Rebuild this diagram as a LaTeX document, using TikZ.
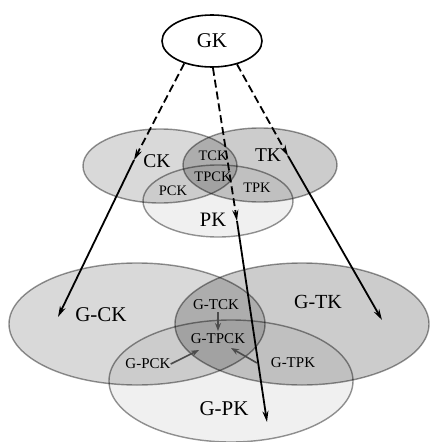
\documentclass[tikz,border=0pt]{standalone}
\usepackage{fontspec}
\setmainfont{Liberation Serif}
\usetikzlibrary{shapes.geometric,arrows.meta}
\begin{document}
\begin{tikzpicture}[x=1pt,y=-1pt,
  setA/.style={ellipse,inner sep=0pt,draw=black,draw opacity=0.42,line width=1.4pt,fill=black},
  lbl/.style={inner sep=0pt},
  small/.style={font=\fontsize{14.5}{14.5}\selectfont,inner sep=0pt},
  smallg/.style={font=\fontsize{15}{15}\selectfont,inner sep=0pt},
  dasharrow/.style={line width=1.8pt,dash pattern=on 8pt off 4pt,-{Stealth[length=11pt,width=6pt]}},
  solidarrow/.style={line width=1.8pt,-{Stealth[length=11pt,width=6pt]}},
  innerarrow/.style={line width=1.6pt,draw=black!70,-{Stealth[length=8pt,width=6pt]}}]
\useasboundingbox (0,0) rectangle (429,442);
\fill[white] (0,0) rectangle (429,442);
% bottom venn
\node[setA,fill opacity=0.15,minimum width=256,minimum height=122] (egck) at (137,324) {};
\node[setA,fill opacity=0.20,minimum width=254,minimum height=122] (egtk) at (302,324) {};
\node[setA,fill opacity=0.06,minimum width=244,minimum height=122] (egpk) at (231,381) {};
% top venn
\node[setA,fill opacity=0.15,minimum width=154,minimum height=74] (eck) at (160,166) {};
\node[setA,fill opacity=0.20,minimum width=154,minimum height=74] (etk) at (260,165) {};
\node[setA,fill opacity=0.06,minimum width=150,minimum height=72] (epk) at (218,201) {};
% GK
\node[ellipse,draw,line width=1.6pt,fill=white,minimum width=100,minimum height=52,font=\fontsize{21}{21}\selectfont] (gk) at (212,41) {GK};
% top labels
\node[lbl,font=\fontsize{19.5}{19.5}\selectfont] (ck) at (157,161) {CK};
\node[lbl,font=\fontsize{19.5}{19.5}\selectfont] (tk) at (268,155) {TK};
\node[small] (tck) at (213,156) {TCK};
\node[small] (tpck) at (213,177) {TPCK};
\node[small] (pck) at (173,191) {PCK};
\node[small] (tpk) at (257,188) {TPK};
\node[lbl,font=\fontsize{20.5}{20.5}\selectfont] (pk) at (213,220) {PK};
% bottom labels
\node[lbl,font=\fontsize{21}{21}\selectfont] (gck) at (101,315) {G-CK};
\node[lbl,font=\fontsize{20}{20}\selectfont] (gtk) at (318,302) {G-TK};
\node[smallg] (gtck) at (216,305) {G-TCK};
\node[smallg] (gtpck) at (218,339) {G-TPCK};
\node[smallg] (gpck) at (148,364) {G-PCK};
\node[smallg] (gtpk) at (293,363) {G-TPK};
\node[lbl,font=\fontsize{21}{21}\selectfont] (gpk) at (224,409) {G-PK};
% arrow points
\coordinate (a1) at (134,160);
\coordinate (b1) at (58,317);
\coordinate (a2) at (237,221);
\coordinate (b2) at (267,422);
\coordinate (a3) at (288,156);
\coordinate (b3) at (382,320);
\coordinate (t1) at (218,312);
\coordinate (t2) at (218,331);
\coordinate (c1) at (199,350);
\coordinate (c2) at (231,348);
\coordinate (s2) at (257,363);
\draw[dasharrow] (gk.219) -- (a1);
\draw[solidarrow] (a1) -- (b1);
\draw[dasharrow] (gk.-88) -- (a2);
\draw[solidarrow] (a2) -- (b2);
\draw[dasharrow] (gk.-43) -- (a3);
\draw[solidarrow] (a3) -- (b3);
% inner arrows
\draw[innerarrow] (t1) -- (t2);
\draw[innerarrow] (gpck.east) -- (c1);
\draw[innerarrow] (s2) -- (c2);
\end{tikzpicture}
\end{document}
